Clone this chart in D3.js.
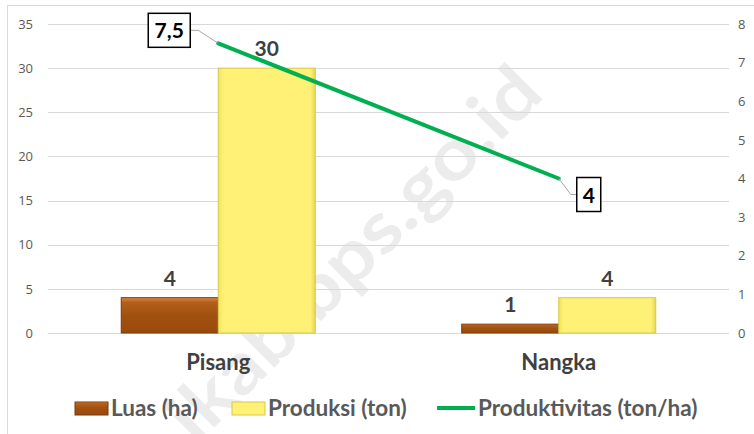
<!DOCTYPE html>
<meta charset="utf-8">
<script src="https://d3js.org/d3.v7.min.js"></script>
<style>
  body { margin: 0; background: #fff; font-family: Lato, 'Open Sans', sans-serif; }
  .axis .domain, .axis line { display: none; }
  .axis text { fill: #595959; font-size: 13px; font-family: 'Open Sans', sans-serif; }
</style>
<body>
<svg width="754" height="434"></svg>
</body>
<script>
// data
var categories = ["Pisang", "Nangka"];
var seriesNames = ["Luas (ha)", "Produksi (ton)", "Produktivitas (ton/ha)"];
var luas = [4, 1];
var produksi = [30, 4];
var produktivitas = [7.5, 4];
var leftTicks = [0, 5, 10, 15, 20, 25, 30, 35];
var rightTicks = [0, 1, 2, 3, 4, 5, 6, 7, 8];

var svg = d3.select("svg");
var plot = {left: 48, right: 729, top: 24, bottom: 333};

var defs = svg.append("defs");
// bevel-ish gradients for the bars
var gBrown = defs.append("linearGradient").attr("id", "gBrown").attr("x1", 0).attr("y1", 0).attr("x2", 0).attr("y2", 1);
gBrown.append("stop").attr("offset", "0").attr("stop-color", "#e08a45");
gBrown.append("stop").attr("offset", "0.12").attr("stop-color", "#b5601c");
gBrown.append("stop").attr("offset", "0.5").attr("stop-color", "#a0500f");
gBrown.append("stop").attr("offset", "1").attr("stop-color", "#9a4b0c");
var gYellow = defs.append("linearGradient").attr("id", "gYellow").attr("x1", 0).attr("y1", 0).attr("x2", 1).attr("y2", 0);
gYellow.append("stop").attr("offset", "0").attr("stop-color", "#f3e25a");
gYellow.append("stop").attr("offset", "0.05").attr("stop-color", "#fff176");
gYellow.append("stop").attr("offset", "0.95").attr("stop-color", "#fff176");
gYellow.append("stop").attr("offset", "1").attr("stop-color", "#e8d650");

// chart border
svg.append("rect")
  .attr("x", 7.5).attr("y", 5.5).attr("width", 760).attr("height", 440)
  .attr("fill", "none").attr("stroke", "#d9d9d9").attr("stroke-width", 1);

// watermark
svg.append("text")
  .attr("transform", "translate(196,446) rotate(-45)")
  .attr("font-family", "Lato, sans-serif")
  .attr("font-weight", "bold")
  .attr("font-size", 72)
  .attr("textLength", 495).attr("lengthAdjust", "spacingAndGlyphs")
  .attr("fill", "#000").attr("fill-opacity", 0.075)
  .text("ikab.bps.go.id");

// scales
var x0 = d3.scaleBand().domain(categories).range([plot.left, plot.right]).padding(0);
var x1 = d3.scaleBand().domain([0, 1]).range([0, x0.bandwidth()]).paddingInner(0).paddingOuter(0.755);
var yL = d3.scaleLinear().domain([0, 35]).range([plot.bottom, plot.top]);
var yR = d3.scaleLinear().domain([0, 8]).range([plot.bottom, plot.top]);

// gridlines
svg.append("g").selectAll("line").data(leftTicks).join("line")
  .attr("x1", plot.left).attr("x2", plot.right)
  .attr("y1", function(d) { return Math.round(yL(d)) + 0.5; })
  .attr("y2", function(d) { return Math.round(yL(d)) + 0.5; })
  .attr("stroke", "#d9d9d9").attr("stroke-width", 1);

// axes
svg.append("g").attr("class", "axis")
  .attr("transform", "translate(" + (plot.left - 7) + ",0)")
  .call(d3.axisLeft(yL).tickValues(leftTicks).tickSize(0).tickPadding(8));
svg.append("g").attr("class", "axis")
  .attr("transform", "translate(" + (plot.right + 1) + ",0)")
  .call(d3.axisRight(yR).tickValues(rightTicks).tickSize(0).tickPadding(8));

// bars
var barData = [];
categories.forEach(function(c, i) {
  barData.push({cat: c, s: 0, v: luas[i]});
  barData.push({cat: c, s: 1, v: produksi[i]});
});
svg.append("g").selectAll("rect").data(barData).join("rect")
  .attr("x", function(d) { return x0(d.cat) + x1(d.s); })
  .attr("y", function(d) { return yL(d.v); })
  .attr("width", x1.bandwidth())
  .attr("height", function(d) { return yL(0) - yL(d.v); })
  .attr("fill", function(d) { return d.s === 0 ? "url(#gBrown)" : "url(#gYellow)"; })
  .attr("stroke", function(d) { return d.s === 0 ? "#7a3a08" : "#d8c84c"; })
  .attr("stroke-width", 1);

// bar labels
svg.append("g").selectAll("text").data(barData).join("text")
  .attr("x", function(d) { return x0(d.cat) + x1(d.s) + x1.bandwidth() / 2; })
  .attr("y", function(d) { return yL(d.v) - 12; })
  .attr("text-anchor", "middle")
  .attr("font-weight", "bold").attr("font-size", 21)
  .attr("fill", "#404040")
  .text(function(d) { return d.v; });

// productivity line
var lineData = categories.map(function(c, i) { return {cat: c, v: produktivitas[i]}; });
var line = d3.line()
  .x(function(d) { return x0(d.cat) + x0.bandwidth() / 2; })
  .y(function(d) { return yR(d.v); });
svg.append("path").datum(lineData)
  .attr("d", line)
  .attr("fill", "none").attr("stroke", "#00b050").attr("stroke-width", 4)
  .attr("stroke-linecap", "round");

// callout labels
var fmt = function(v) { return String(v).replace(".", ","); };
var callouts = [
  {d: lineData[0], dx: -20, dy: -13, bx: -70, w: 42, side: "left"},
  {d: lineData[1], dx: 12, dy: 16, bx: 18, w: 24, side: "right"}
];
callouts.forEach(function(c) {
  var px = x0(c.d.cat) + x0.bandwidth() / 2, py = yR(c.d.v);
  var kx = px + c.dx, ky = py + c.dy;
  var bx = px + c.bx, by = ky - 17;
  var ex = c.side === "left" ? bx + c.w : bx;
  svg.append("polyline")
    .attr("points", [[px, py], [kx, ky], [ex, ky]].map(function(p) { return p.join(","); }).join(" "))
    .attr("fill", "none").attr("stroke", "#a6a6a6").attr("stroke-width", 1);
  svg.append("rect")
    .attr("x", bx).attr("y", by).attr("width", c.w).attr("height", 34)
    .attr("fill", "#fff").attr("stroke", "#000").attr("stroke-width", 1.5);
  svg.append("text")
    .attr("x", bx + c.w / 2).attr("y", by + 25)
    .attr("text-anchor", "middle")
    .attr("font-weight", "bold").attr("font-size", 21)
    .attr("fill", "#000")
    .text(fmt(c.d.v));
});

// category labels
svg.append("g").selectAll("text").data(categories).join("text")
  .attr("x", function(d) { return x0(d) + x0.bandwidth() / 2; })
  .attr("y", 370)
  .attr("text-anchor", "middle")
  .attr("font-weight", "bold").attr("font-size", 22)
  .attr("fill", "#404040")
  .text(function(d) { return d; });

// legend
var legendX = [75, 232, 437];
var lg = svg.append("g").selectAll("g").data(seriesNames).join("g")
  .attr("transform", function(d, i) { return "translate(" + legendX[i] + ",408)"; });
lg.each(function(d, i) {
  var g = d3.select(this);
  if (i < 2) {
    g.append("rect")
      .attr("x", 0).attr("y", -6).attr("width", 33).attr("height", 13)
      .attr("fill", i === 0 ? "url(#gBrown)" : "#fff176")
      .attr("stroke", i === 0 ? "#7a3a08" : "#d8c84c");
  } else {
    g.append("line")
      .attr("x1", 0).attr("x2", 38).attr("y1", 0).attr("y2", 0)
      .attr("stroke", "#00b050").attr("stroke-width", 4);
  }
  g.append("text")
    .attr("x", i < 2 ? 36 : 41).attr("y", 8)
    .attr("font-weight", "bold").attr("font-size", 22.5)
    .attr("fill", "#595959")
    .text(d);
});
</script>
